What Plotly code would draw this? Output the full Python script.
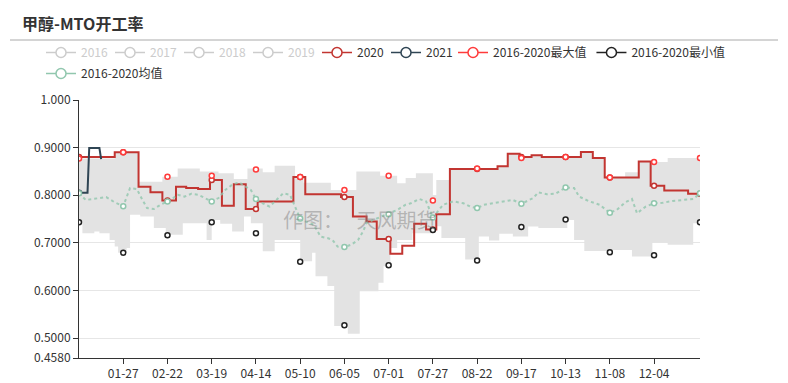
import plotly.graph_objects as go

# ---------------- data ----------------
# x is the day index of a leap year (0 = 01-01 ... 365 = 12-31)
tick_idx = [26, 52, 78, 104, 130, 156, 182, 208, 234, 260, 286, 312, 338]
tick_labels = ["01-27", "02-22", "03-19", "04-14", "05-10", "06-05", "07-01",
               "07-27", "08-22", "09-17", "10-13", "11-08", "12-04"]
marker_idx = [0] + tick_idx + [365]

y_ticks = [0.458, 0.5, 0.6, 0.7, 0.8, 0.9, 1.0]
y_tick_labels = ["0.4580", "0.5000", "0.6000", "0.7000", "0.8000", "0.9000", "1.000"]

# 2020 (step levels: start day -> value)
s2020_x = [0, 21, 35, 42, 49, 57, 63, 70, 77, 84, 91, 98, 105, 126, 133, 154, 161, 169, 175,
           183, 190, 197, 204, 210, 218, 246, 252, 259, 266, 272, 295, 302, 309, 329, 336,
           344, 358, 365]
s2020_y = [0.880, 0.890, 0.818, 0.806, 0.789, 0.818, 0.815, 0.813, 0.832, 0.778, 0.823, 0.771,
           0.787, 0.838, 0.802, 0.796, 0.755, 0.745, 0.708, 0.677, 0.694, 0.740, 0.728, 0.760,
           0.855, 0.861, 0.887, 0.880, 0.884, 0.880, 0.891, 0.878, 0.837, 0.871, 0.820, 0.810,
           0.803, 0.803]

# 2021
s2021_x = [0, 5, 6, 12, 13]
s2021_y = [0.805, 0.805, 0.899, 0.899, 0.876]

# 2016-2020 max / min (values at the symbol days)
max_vals = [0.877, 0.890, 0.839, 0.841, 0.854, 0.838, 0.811, 0.841, 0.789, 0.856, 0.878,
            0.880, 0.837, 0.870, 0.878]
min_vals = [0.743, 0.679, 0.716, 0.743, 0.720, 0.660, 0.527, 0.653, 0.727, 0.663, 0.733,
            0.749, 0.680, 0.674, 0.743]

# grey range band (step levels)
band_up_x = [0, 21, 35, 49, 58, 71, 82, 91, 99, 108, 115, 127, 132, 148, 163, 177, 187, 192,
             198, 208, 210, 218, 246, 252, 259, 266, 272, 295, 302, 309, 321, 329, 337, 346, 365]
band_up_y = [0.877, 0.890, 0.828, 0.839, 0.856, 0.850, 0.846, 0.834, 0.856, 0.848, 0.862,
             0.838, 0.826, 0.811, 0.850, 0.841, 0.825, 0.836, 0.846, 0.800, 0.832, 0.855,
             0.861, 0.887, 0.880, 0.884, 0.880, 0.891, 0.878, 0.837, 0.848, 0.871, 0.870,
             0.878, 0.878]
band_lo_x = [0, 2, 9, 12, 18, 21, 23, 28, 30, 36, 44, 51, 61, 75, 78, 83, 90, 97, 101, 108,
             115, 130, 137, 139, 146, 150, 158, 165, 176, 179, 183, 187, 196, 208, 213, 227,
             235, 241, 247, 255, 264, 270, 277, 287, 291, 297, 311, 325, 337, 346, 361, 365]
band_lo_y = [0.743, 0.720, 0.724, 0.720, 0.706, 0.692, 0.679, 0.689, 0.759, 0.755, 0.731,
             0.717, 0.741, 0.706, 0.748, 0.740, 0.724, 0.755, 0.741, 0.682, 0.706, 0.661,
             0.679, 0.630, 0.609, 0.525, 0.509, 0.598, 0.616, 0.651, 0.689, 0.706, 0.720,
             0.735, 0.710, 0.665, 0.713, 0.705, 0.719, 0.713, 0.734, 0.731, 0.731, 0.748,
             0.706, 0.683, 0.685, 0.671, 0.700, 0.696, 0.741, 0.741]

# 2016-2020 mean
mean_x = [0, 4, 12, 16, 21, 26, 30, 34, 37, 40, 44, 48, 52, 54, 58, 62, 66, 70, 74, 78, 82, 86,
          90, 94, 98, 101, 104, 108, 112, 116, 120, 124, 127, 130, 133, 138, 142, 146, 149,
          152, 156, 160, 164, 167, 169, 173, 178, 182, 187, 192, 195, 200, 204, 208, 214, 220,
          226, 230, 234, 238, 244, 249, 255, 260, 263, 267, 270, 275, 280, 286, 291, 294, 300,
          306, 312, 316, 321, 325, 328, 333, 338, 343, 349, 355, 361, 365]
mean_y = [0.804, 0.790, 0.794, 0.796, 0.785, 0.777, 0.815, 0.813, 0.792, 0.773, 0.771, 0.780,
          0.787, 0.790, 0.801, 0.797, 0.803, 0.801, 0.794, 0.787, 0.794, 0.811, 0.822, 0.827,
          0.818, 0.811, 0.792, 0.783, 0.776, 0.790, 0.804, 0.801, 0.776, 0.751, 0.745, 0.738,
          0.713, 0.710, 0.706, 0.692, 0.691, 0.696, 0.706, 0.724, 0.742, 0.748, 0.755, 0.760,
          0.769, 0.780, 0.783, 0.792, 0.787, 0.753, 0.780, 0.787, 0.783, 0.776, 0.773, 0.780,
          0.783, 0.787, 0.790, 0.782, 0.787, 0.794, 0.806, 0.802, 0.803, 0.816, 0.815, 0.797,
          0.787, 0.780, 0.763, 0.769, 0.785, 0.792, 0.762, 0.776, 0.783, 0.784, 0.788, 0.790,
          0.792, 0.804]

# ---------------- style ----------------
C2020, C2021, CMAX, CMIN, CMEAN = "#c23531", "#2f4554", "#ff3b3b", "#222222", "#91c7ae"
GREY = "#cccccc"
FONT = "Noto Sans CJK SC, Noto Sans, sans-serif"
W, H = 788, 383
L, R, T, B = 79, 88, 100, 25
PW, PH = W - L - R, H - T - B
MS = 5


def px_x(px):
    return (px - L) / PW


def px_y(py):
    return (H - B - py) / PH


def step_lookup(xs, ys, day):
    val = ys[0]
    for x, y in zip(xs, ys):
        if x <= day:
            val = y
    return val


fig = go.Figure()

# grey band
fig.add_trace(go.Scatter(x=band_lo_x, y=band_lo_y, mode="lines", line=dict(width=0, shape="hv"),
                         showlegend=False, hoverinfo="skip"))
fig.add_trace(go.Scatter(x=band_up_x, y=band_up_y, mode="lines", line=dict(width=0, shape="hv"),
                         fill="tonexty", fillcolor="#e3e3e3", showlegend=False, hoverinfo="skip"))

# 2020
fig.add_trace(go.Scatter(x=s2020_x, y=s2020_y, mode="lines", line=dict(color=C2020, width=2, shape="hv"),
                         showlegend=False))
fig.add_trace(go.Scatter(x=marker_idx, y=[step_lookup(s2020_x, s2020_y, d) for d in marker_idx],
                         mode="markers", showlegend=False,
                         marker=dict(symbol="circle", size=MS, color="white", line=dict(color=C2020, width=1.5))))
# 2021
fig.add_trace(go.Scatter(x=s2021_x, y=s2021_y, mode="lines", line=dict(color=C2021, width=2),
                         showlegend=False))
fig.add_trace(go.Scatter(x=[s2021_x[0]], y=[s2021_y[0]], mode="markers", showlegend=False,
                         marker=dict(symbol="circle", size=MS, color="white", line=dict(color=C2021, width=1.5))))
# max / min
fig.add_trace(go.Scatter(x=marker_idx, y=max_vals, mode="markers", showlegend=False,
                         marker=dict(symbol="circle", size=MS, color="white", line=dict(color=CMAX, width=1.5))))
fig.add_trace(go.Scatter(x=marker_idx, y=min_vals, mode="markers", showlegend=False,
                         marker=dict(symbol="circle", size=MS, color="white", line=dict(color=CMIN, width=1.5))))
# mean
fig.add_trace(go.Scatter(x=mean_x, y=mean_y, mode="lines", line=dict(color=CMEAN, width=2, dash="dot"),
                         opacity=0.8, showlegend=False))
mx = [x for x in mean_x if x in marker_idx]
my = [y for x, y in zip(mean_x, mean_y) if x in marker_idx]
fig.add_trace(go.Scatter(x=mx, y=my, mode="markers", showlegend=False,
                         marker=dict(symbol="circle", size=MS, color="white", line=dict(color=CMEAN, width=1.5))))

# legend entries (three legend boxes laid out like the original)
legend_items = [
    ("2016", GREY, True, "legend", 24), ("2017", GREY, True, "legend", 24),
    ("2018", GREY, True, "legend", 24), ("2019", GREY, True, "legend", 24),
    ("2020", C2020, False, "legend", 24), ("2021", C2021, False, "legend", 24),
    ("2016-2020最大值", CMAX, False, "legend3", None), ("2016-2020最小值", CMIN, False, "legend3", None),
    ("2016-2020均值", CMEAN, False, "legend2", None),
]
for name, col, off, lg, lw in legend_items:
    label = f'<span style="color:{GREY}">{name}</span>' if off else name
    kw = dict(legendwidth=lw) if lw else {}
    fig.add_trace(go.Scatter(x=[None], y=[None], mode="lines+markers", name=label,
                             line=dict(color=col, width=1.5),
                             marker=dict(symbol="circle", size=10, color="white", line=dict(color=col, width=1.5)),
                             legend=lg, **kw))

LEG = dict(orientation="h", xref="container", yref="container", xanchor="left", yanchor="top",
           font=dict(size=12, color="#333333", family=FONT), bgcolor="rgba(0,0,0,0)",
           traceorder="normal", borderwidth=0)

fig.update_layout(
    width=W, height=H,
    margin=dict(l=L, r=R, t=T, b=B, pad=0, autoexpand=False),
    paper_bgcolor="white", plot_bgcolor="white",
    font=dict(family=FONT, size=12, color="#333333"),
    legend=dict(LEG, x=41 / W, y=1 - 38 / H),
    legend3=dict(LEG, x=453 / W, y=1 - 38 / H),
    legend2=dict(LEG, x=41 / W, y=1 - 59 / H),
    xaxis=dict(range=[0, 365], tickvals=tick_idx, ticktext=tick_labels, showgrid=False,
               zeroline=False, showline=True, linecolor="#333333", linewidth=1,
               ticks="outside", ticklen=5, tickcolor="#333333",
               tickfont=dict(size=12, color="#333333")),
    yaxis=dict(range=[0.458, 1.0], tickvals=y_ticks, ticktext=y_tick_labels, showgrid=True,
               gridcolor="#e6e6e6", zeroline=False, showline=True, linecolor="#333333", linewidth=1,
               ticks="outside", ticklen=5, tickcolor="#333333",
               tickfont=dict(size=12, color="#333333")),
    shapes=[dict(type="line", xref="paper", yref="paper", x0=px_x(10), x1=px_x(778),
                 y0=px_y(40), y1=px_y(40), line=dict(color="#aaaaaa", width=1))],
    annotations=[
        dict(text="<b>甲醇-MTO开工率</b>", xref="paper", yref="paper", x=px_x(20), y=px_y(23),
             xanchor="left", yanchor="middle", showarrow=False,
             font=dict(size=16, color="#333333", family=FONT)),
        dict(text="作图：\u00a0\u00a0\u00a0天风期货", xref="paper", yref="paper", x=px_x(359), y=px_y(219),
             xanchor="center", yanchor="middle", showarrow=False,
             font=dict(size=20, color="rgba(120,120,120,0.45)", family=FONT)),
    ],
)

fig.write_html("out.html", config={"displayModeBar": False},
               post_script="document.body.style.margin='0';")
